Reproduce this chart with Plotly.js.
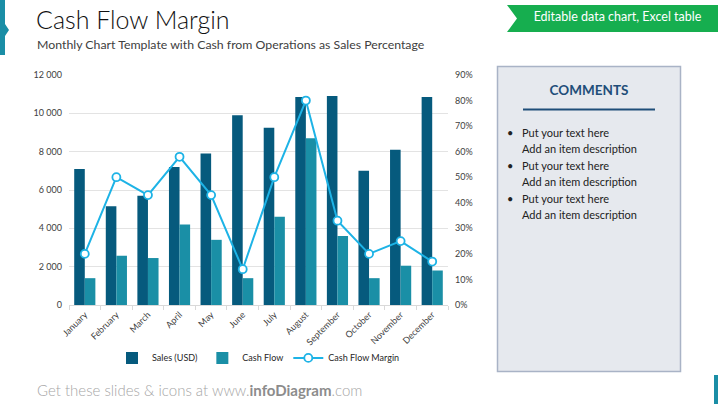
<!DOCTYPE html>
<html>
<head>
<meta charset="utf-8">
<script src="https://cdn.plot.ly/plotly-3.0.1.min.js"></script>
<style>
  html, body { margin:0; padding:0; background:#fff; }
  #wrap { position:relative; width:718px; height:404px; overflow:hidden; font-family:Lato, "Open Sans", sans-serif; }
  #chart { position:absolute; left:0; top:0; width:718px; height:404px; }
  .abs { position:absolute; white-space:nowrap; }
</style>
</head>
<body>
<div id="wrap">
  <svg class="abs" style="left:0;top:0" width="718" height="404">
    <polygon points="0,0 5,0 5,24 9,30 5,36 5,55 0,55" fill="#1a8ea6"/>
    <polygon points="507,5 718,5 718,32 507,32 517,18.5" fill="#16ae4f"/>
    <rect x="714" y="375" width="4" height="29" fill="#1a8ea6"/>
    <rect x="497.5" y="66.5" width="183" height="305" fill="#e6e9ee" stroke="#a9b3c6" stroke-width="1.5"/>
    <line x1="523" y1="109.5" x2="655" y2="109.5" stroke="#1f4e79" stroke-width="2"/>
  </svg>
  <div id="chart"></div>
  <div class="abs" style="left:36px;top:4px;font-size:25px;color:#111;font-weight:300;">Cash Flow Margin</div>
  <div class="abs" style="left:37px;top:37px;font-size:12.3px;color:#404040;">Monthly Chart Template with Cash from Operations as Sales Percentage</div>
  <div class="abs" style="left:517px;top:9px;width:201px;text-align:center;font-size:12.5px;color:#fff;">Editable data chart, Excel table</div>
  <div class="abs" style="left:497px;top:82px;width:184px;text-align:center;font-size:13.5px;font-weight:bold;color:#1f4e79;">COMMENTS</div>
  <div class="abs" style="left:507px;top:125px;font-size:11px;color:#222;line-height:15.5px;">
    <div style="margin-bottom:2px"><span style="display:inline-block;width:15px">•</span>Put your text here<br><span style="display:inline-block;width:15px"></span>Add an item description</div>
    <div style="margin-bottom:2px"><span style="display:inline-block;width:15px">•</span>Put your text here<br><span style="display:inline-block;width:15px"></span>Add an item description</div>
    <div><span style="display:inline-block;width:15px">•</span>Put your text here<br><span style="display:inline-block;width:15px"></span>Add an item description</div>
  </div>
  <div class="abs" style="left:37px;top:381px;font-size:15px;color:#a6a6a6;font-weight:300;">Get these slides &amp; icons at www.<b style="color:#8c8c8c;font-weight:700">infoDiagram</b>.com</div>
</div>
<script>
const months = ["January","February","March","April","May","June","July","August","September","October","November","December"];
const sales = [7100, 5150, 5700, 7200, 7900, 9900, 9250, 10850, 10900, 7000, 8100, 10850];
const cashFlow = [1400, 2570, 2450, 4200, 3400, 1400, 4600, 8700, 3600, 1400, 2050, 1800];
const margin = [0.20, 0.50, 0.43, 0.58, 0.43, 0.14, 0.50, 0.80, 0.33, 0.20, 0.25, 0.17];
const leftTicks = [0, 2000, 4000, 6000, 8000, 10000, 12000];
const rightTicks = [0, 0.1, 0.2, 0.3, 0.4, 0.5, 0.6, 0.7, 0.8, 0.9];

const data = [
  {type:"bar", name:"Sales (USD)", x:months, y:sales, marker:{color:"#065a7d"}},
  {type:"bar", name:"Cash Flow", x:months, y:cashFlow, marker:{color:"#1a8fa6"}},
  {type:"scatter", mode:"lines+markers", name:"Cash Flow Margin", x:months, y:margin, yaxis:"y2",
   line:{color:"#1db3e6", width:2},
   marker:{size:8, color:"#ffffff", line:{color:"#1db3e6", width:1.8}}}
];
const tickFont = {family:"Lato, Open Sans, sans-serif", size:9, color:"#404040"};
const layout = {
  width:718, height:404,
  margin:{l:69, r:270, t:75, b:99, pad:0, autoexpand:false},
  paper_bgcolor:"rgba(0,0,0,0)", plot_bgcolor:"rgba(0,0,0,0)",
  separators:". ",
  barmode:"group", bargap:0.33, bargroupgap:0,
  showlegend:true,
  legend:{orientation:"h", x:0.5, xanchor:"center", y:-0.23, yanchor:"middle",
          font:{family:"Lato, Open Sans, sans-serif", size:9, color:"#262626"}, itemwidth:30, tracegroupgap:0},
  xaxis:{automargin:false, range:[-0.5, months.length - 0.5], autorange:false, tickangle:-45, tickfont:tickFont,
         showline:true, linecolor:"#d9d9d9", linewidth:1,
         ticks:"outside", tickson:"boundaries", ticklen:4, tickcolor:"#d9d9d9", showgrid:false, fixedrange:true},
  yaxis:{automargin:false, range:[0,12000], tickvals:leftTicks, tickformat:",d", tickfont:tickFont, showgrid:true,
         gridcolor:"#e3e3e3", gridwidth:1, zeroline:false, ticks:"", ticklabelstandoff:6},
  yaxis2:{automargin:false, range:[0,0.9], tickvals:rightTicks, tickformat:".0%", tickfont:tickFont, overlaying:"y", side:"right",
          showgrid:false, zeroline:false, ticks:"", ticklabelstandoff:6}
};
Plotly.newPlot("chart", data, layout, {displayModeBar:false, staticPlot:true});
</script>
</body>
</html>
